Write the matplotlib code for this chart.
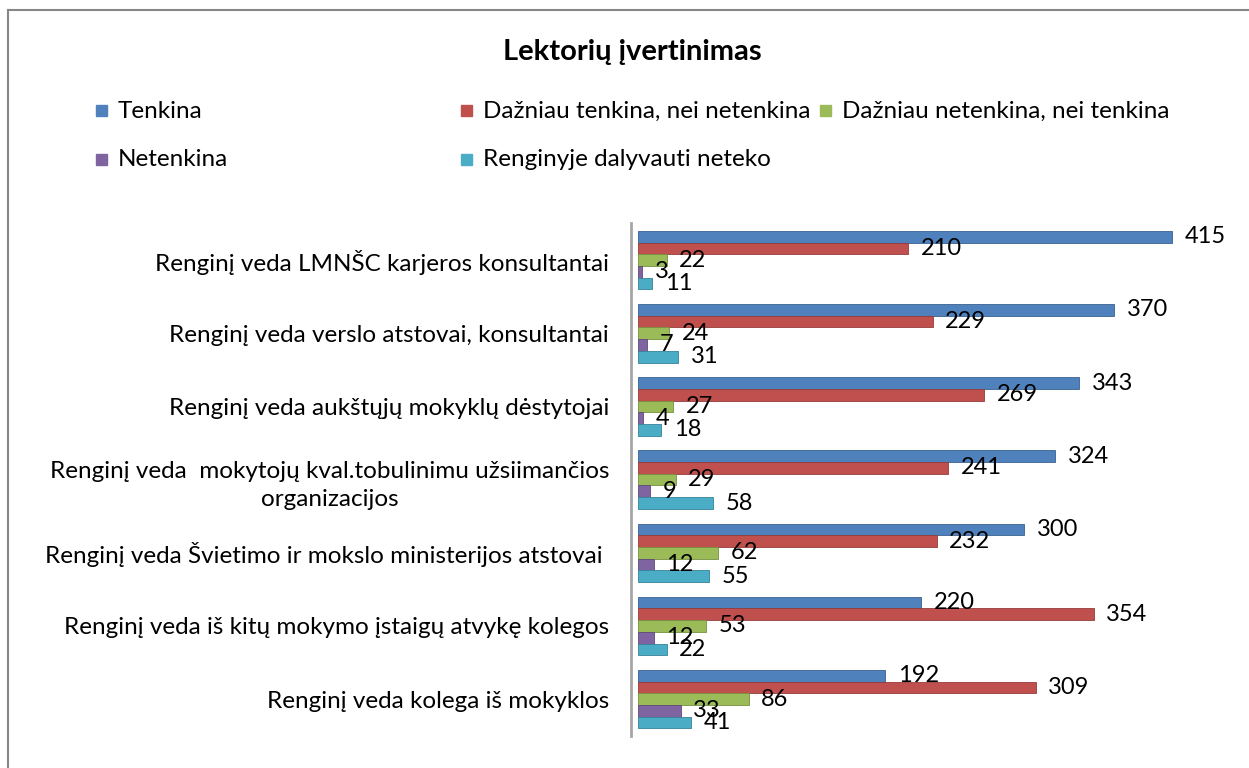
import matplotlib.pyplot as plt
import numpy as np
from matplotlib.lines import Line2D
from matplotlib.patches import Rectangle

plt.rcParams['font.family'] = ['Lato', 'DejaVu Sans']

categories = [
    'Renginį veda LMNŠC karjeros konsultantai',
    'Renginį veda verslo atstovai, konsultantai',
    'Renginį veda aukštųjų mokyklų dėstytojai',
    'Renginį veda  mokytojų kval.tobulinimu užsiimančios\norganizacijos',
    'Renginį veda Švietimo ir mokslo ministerijos atstovai ',
    'Renginį veda iš kitų mokymo įstaigų atvykę kolegos',
    'Renginį veda kolega iš mokyklos',
]
series_names = [
    'Tenkina',
    'Dažniau tenkina, nei netenkina',
    'Dažniau netenkina, nei tenkina',
    'Netenkina',
    'Renginyje dalyvauti neteko',
]
tenkina = [415, 370, 343, 324, 300, 220, 192]
dazniau_tenkina = [210, 229, 269, 241, 232, 354, 309]
dazniau_netenkina = [22, 24, 27, 29, 62, 53, 86]
netenkina = [3, 7, 4, 9, 12, 12, 33]
neteko = [11, 31, 18, 58, 55, 22, 41]
values = [tenkina, dazniau_tenkina, dazniau_netenkina, netenkina, neteko]
colors = ['#4F81BD', '#C0504D', '#9BBB59', '#8064A2', '#4BACC6']
edges = ['#3A6190', '#943C3A', '#76903F', '#5F4A7B', '#358299']

fig = plt.figure(figsize=(12.49, 7.68), dpi=100)
ax = fig.add_axes([0.511, 0.042, 0.482, 0.667])

# spine first: set_position resets the ticks
for s in ['top', 'right', 'bottom']:
    ax.spines[s].set_visible(False)
ax.spines['left'].set_color('#A6A6A6')
ax.spines['left'].set_linewidth(2)
ax.spines['left'].set_position(('outward', 5))

y = np.arange(len(categories))
h = 0.16
for i, (vals, name) in enumerate(zip(values, series_names)):
    bars = ax.barh(y + (i - 2) * h, vals, height=h, color=colors[i],
                   edgecolor=edges[i], linewidth=0.6, label=name)
    ax.bar_label(bars, padding=9, fontsize=17)

ax.set_ylim(len(categories) - 0.5, -0.5)
ax.set_xlim(0, 468)
ax.tick_params(axis='y', length=0, pad=16, labelsize=17.5)
ax.set_yticks(y, labels=categories, multialignment='center', linespacing=1.45)
ax.set_xticks([])

fig.text(0.506, 0.932, 'Lektorių įvertinimas', ha='center', va='center',
         fontsize=21, fontweight='bold')

# legend drawn by hand to keep the wide column spacing
leg_x = [96, 461, 820, 96, 461]
leg_y = [111, 111, 111, 160, 160]
W, H = 1249, 768
for i, name in enumerate(series_names):
    fig.patches.append(Rectangle((leg_x[i] / W, 1 - (leg_y[i] + 5) / H), 11 / W, 11 / H,
                                 transform=fig.transFigure, color=colors[i]))
    fig.text((leg_x[i] + 22) / W, 1 - leg_y[i] / H, name, va='center', fontsize=17.5)

# chart border
fig.add_artist(Line2D([8 / W, 8 / W], [0, 1 - 10 / H], color='#878787', lw=1.5))
fig.add_artist(Line2D([8 / W, 1], [1 - 10 / H, 1 - 10 / H], color='#878787', lw=1.5))

plt.savefig('out.png', dpi=100)
